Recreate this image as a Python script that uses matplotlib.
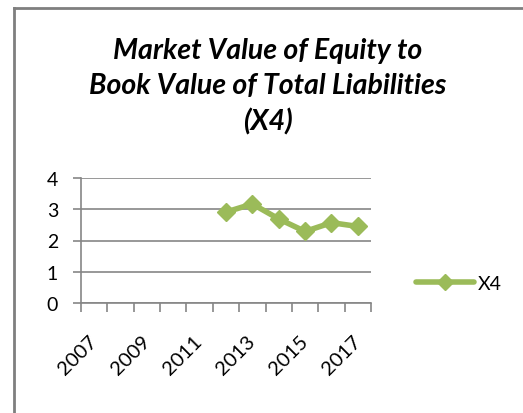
import matplotlib
matplotlib.use("Agg")
import matplotlib.pyplot as plt
from matplotlib.lines import Line2D

plt.rcParams['font.family'] = ['Lato', 'DejaVu Sans']

years = [2007, 2008, 2009, 2010, 2011, 2012, 2013, 2014, 2015, 2016, 2017]
data_years = [2012, 2013, 2014, 2015, 2016, 2017]
x4_values = [2.91, 3.17, 2.69, 2.29, 2.57, 2.45]
label_years = ["2007", "2009", "2011", "2013", "2015", "2017"]
title = "Market Value of Equity to\nBook Value of Total Liabilities\n(X4)"
series_name = "X4"

W, H = 523, 414
fig = plt.figure(figsize=(W / 100, H / 100), dpi=100)
fig.patch.set_facecolor("white")

# outer chart-area frame (extends beyond the image to right and bottom)
fc = "#7f7f7f"
fig.add_artist(Line2D([14 / W, 14 / W], [0, 1 - 9 / H], transform=fig.transFigure, color=fc, lw=2))
fig.add_artist(Line2D([14 / W, 1], [1 - 9 / H, 1 - 9 / H], transform=fig.transFigure, color=fc, lw=2))

left, right, top, bottom = 81, 371, 179, 304
ax = fig.add_axes([left / W, 1 - bottom / H, (right - left) / W, (bottom - top) / H])
ax.set_facecolor("none")

idx = {y: i for i, y in enumerate(years)}
xs = [idx[y] for y in data_years]
green = "#9bbb59"
ax.plot(xs, x4_values, color=green, lw=4, marker="D", ms=9.5, mec=green, mfc=green,
        solid_joinstyle="round", solid_capstyle="round", clip_on=False, zorder=5)

ax.set_xlim(-0.5, len(years) - 0.5)
ax.set_ylim(0, 4)
ax.set_yticks([0, 1, 2, 3, 4])
grid_c = "#868686"
ax.yaxis.grid(True, color=grid_c, lw=1.2)
ax.set_axisbelow(True)
for s in ["top", "right"]:
    ax.spines[s].set_visible(False)
ax.spines["left"].set_color(grid_c)
ax.spines["bottom"].set_color(grid_c)
ax.spines["left"].set_linewidth(1.2)
ax.spines["bottom"].set_linewidth(1.2)

# major ticks at category boundaries, labels on minor ticks at category centers
ax.set_xticks([i - 0.5 for i in range(len(years) + 1)])
ax.set_xticklabels([])
ax.set_xticks([idx[int(y)] for y in label_years], minor=True)
ax.set_xticklabels(label_years, minor=True, rotation=45, ha="right", va="center",
                   rotation_mode="anchor", fontsize=14.5)
ax.tick_params(axis="x", which="major", direction="out", length=6.5, width=1.2, color=grid_c)
ax.tick_params(axis="x", which="minor", length=0, pad=25)
ax.tick_params(axis="y", direction="out", length=5.5, width=1.2, color=grid_c, labelsize=14, pad=11)

fig.text(0.512, 1 - 38 / H, title, ha="center", va="top", fontsize=20.5,
         fontweight="bold", fontstyle="italic", linespacing=1.42)

leg_handle = Line2D([], [], color=green, lw=4, marker="D", ms=8.5, mec=green, mfc=green,
                    solid_capstyle="round")
fig.legend([leg_handle], [series_name], loc="center left",
           bbox_to_anchor=(416 / W, 1 - 284 / H), frameon=False, fontsize=14,
           handlelength=3.0, handletextpad=0.2, borderpad=0, borderaxespad=0)

fig.savefig("out.png", dpi=100, facecolor="white")
